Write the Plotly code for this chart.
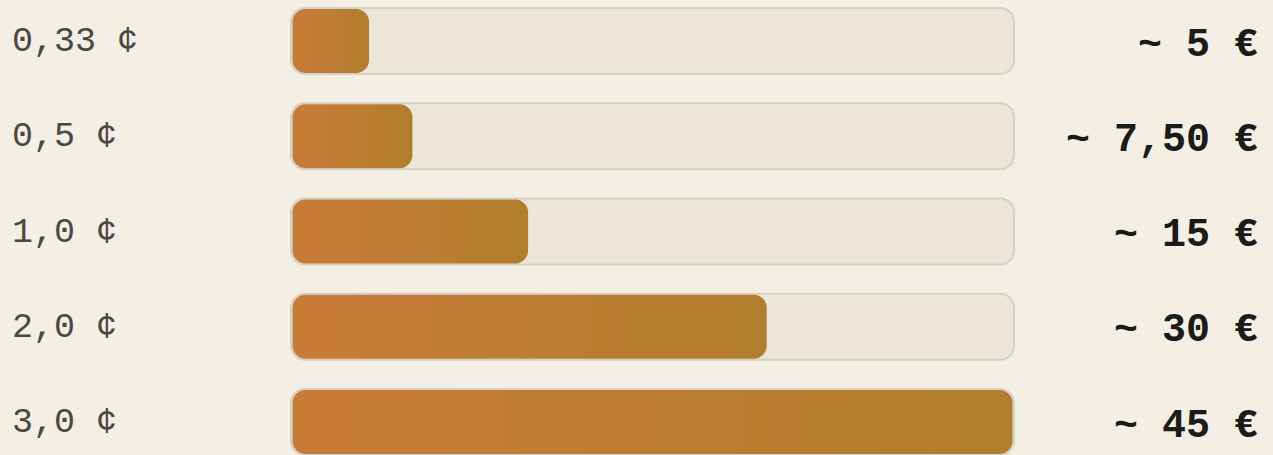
import numpy as np
import plotly.graph_objects as go

# ---- data ----
cent_labels = ["0,33 ¢", "0,5 ¢", "1,0 ¢", "2,0 ¢", "3,0 ¢"]
euro_labels = ["~ 5 €", "~ 7,50 €", "~ 15 €", "~ 30 €", "~ 45 €"]
fill_pct = [11, 17, 33, 66, 100]
track_max = 100

# ---- style / geometry ----
W, H = 1273, 455
BG = "#f3efe5"
TRACK_FILL = "#ebe5da"
TRACK_LINE = "#d7d1c5"
GRAD = [[0, "#c97b38"], [1, "#b07e2c"]]
FONT = "Liberation Mono"

x_px0 = 291          # pixel of value 0
x_px_per_unit = 723 / track_max
y_px0 = 41           # pixel of first row centre
y_px_per_row = 95.25

ux = 1 / x_px_per_unit   # data units per pixel (x)
uy = 1 / y_px_per_row    # data units per pixel (y)


def rounded_rect(x0, x1, yc, half_h_px, r_px, n=24):
    rx, ry = r_px * ux, r_px * uy
    y0, y1 = yc - half_h_px * uy, yc + half_h_px * uy
    xs, ys = [], []
    corners = [
        (x1 - rx, y0 + ry, -np.pi / 2, 0),
        (x1 - rx, y1 - ry, 0, np.pi / 2),
        (x0 + rx, y1 - ry, np.pi / 2, np.pi),
        (x0 + rx, y0 + ry, np.pi, 1.5 * np.pi),
    ]
    for cx, cy, a0, a1 in corners:
        t = np.linspace(a0, a1, n)
        xs.extend(cx + rx * np.cos(t))
        ys.extend(cy + ry * np.sin(t))
    xs.append(xs[0])
    ys.append(ys[0])
    return xs, ys


fig = go.Figure()

for i, pct in enumerate(fill_pct):
    tx, ty = rounded_rect(0, track_max, i, 33, 14)
    fig.add_trace(go.Scatter(
        x=tx, y=ty, mode="lines", fill="toself", fillcolor=TRACK_FILL,
        line=dict(color=TRACK_LINE, width=2, simplify=False),
        hoverinfo="skip", showlegend=False,
    ))
    bx, by = rounded_rect(1.5 * ux, pct - 1.5 * ux, i, 32, 13)
    fig.add_trace(go.Scatter(
        x=bx, y=by, mode="lines", fill="toself",
        fillgradient=dict(type="horizontal", colorscale=GRAD),
        line=dict(width=0, color="rgba(0,0,0,0)", simplify=False),
        hoverinfo="skip", showlegend=False,
    ))

annotations = []
for i, (cl, el) in enumerate(zip(cent_labels, euro_labels)):
    annotations.append(dict(
        x=10 / W, xref="paper", xanchor="left", y=i, yref="y", yanchor="middle",
        yshift=-1, text=cl, showarrow=False,
        font=dict(family=FONT, size=35, color="#4d4740"),
    ))
    annotations.append(dict(
        x=1260 / W, xref="paper", xanchor="right", y=i, yref="y", yanchor="middle",
        yshift=-4, text=el, showarrow=False,
        font=dict(family=FONT, size=40, color="#1d1b18", weight="bold"),
    ))

fig.update_layout(
    width=W, height=H, margin=dict(l=0, r=0, t=0, b=0),
    paper_bgcolor=BG, plot_bgcolor=BG, showlegend=False,
    xaxis=dict(range=[-x_px0 * ux, (W - x_px0) * ux], visible=False, fixedrange=True),
    yaxis=dict(range=[(H - y_px0) * uy, -y_px0 * uy], visible=False, fixedrange=True),
    annotations=annotations,
)

fig.write_html(
    "out.html",
    config={"displayModeBar": False},
    post_script="document.body.style.margin='0';document.body.style.overflow='hidden';document.body.style.background='%s';" % BG,
)
